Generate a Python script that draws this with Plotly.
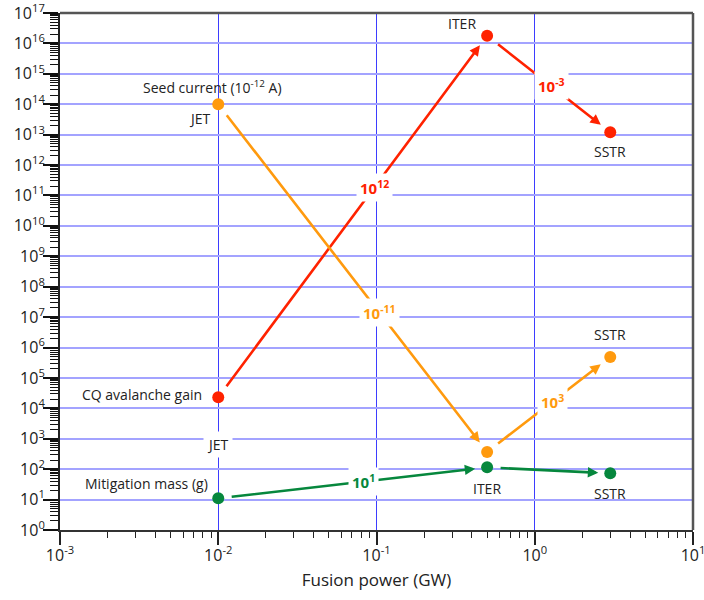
import math
import plotly.graph_objects as go

# ---- data ----
systems = ["JET", "ITER", "SSTR"]
fusion_power = [0.01, 0.5, 3.0]              # GW
avalanche_gain = [2.3e4, 1.8e16, 1.2e13]
seed_current = [1.0e14, 3.7e2, 4.9e5]         # units of 1e-12 A
mitigation_mass = [11, 115, 73]               # g
avalanche_steps = ["10<sup>12</sup>", "10<sup>-3</sup>"]
seed_steps = ["10<sup>-11</sup>", "10<sup>3</sup>"]
mass_steps = ["10<sup>1</sup>", ""]
x_tick_exps = [-3, -2, -1, 0, 1]
y_tick_exps = list(range(0, 18))

RED = "#ff2200"
ORANGE = "#ff9a0e"
GREEN = "#06873d"
FONT = "Open Sans"

fig = go.Figure()

series = [
    (avalanche_gain, RED, avalanche_steps, [0.58, 0.52]),
    (seed_current, ORANGE, seed_steps, [0.6, 0.53]),
    (mitigation_mass, GREEN, mass_steps, [0.54, 0.5]),
]

annotations = []
for vals, col, steps, fracs in series:
    fig.add_trace(go.Scatter(x=fusion_power, y=vals, mode="markers",
                             marker=dict(color=col, size=12),
                             showlegend=False, hoverinfo="skip"))
    lx = [math.log10(v) for v in fusion_power]
    ly = [math.log10(v) for v in vals]
    for i in range(len(vals) - 1):
        annotations.append(dict(
            x=lx[i + 1], y=ly[i + 1], ax=lx[i], ay=ly[i],
            xref="x", yref="y", axref="x", ayref="y",
            text="", showarrow=True, arrowhead=2, arrowsize=0.8,
            arrowwidth=2.6, arrowcolor=col, standoff=12, startstandoff=12))
    for i in range(len(vals) - 1):
        if not steps[i]:
            continue
        t = fracs[i]
        annotations.append(dict(
            x=lx[i] + t * (lx[i + 1] - lx[i]),
            y=ly[i] + t * (ly[i + 1] - ly[i]),
            xref="x", yref="y", text="<b>" + steps[i] + "</b>",
            showarrow=False, bgcolor="white", borderpad=3,
            font=dict(family=FONT, size=15, color=col)))

lab_font = dict(family=FONT, size=14, color="#222222")
lx = [math.log10(v) for v in fusion_power]

def lab(text, xi, yval, xshift=0, yshift=0, xanchor="center", bg=None):
    d = dict(x=lx[xi], y=math.log10(yval), xref="x", yref="y", text=text,
             showarrow=False, xshift=xshift, yshift=yshift, xanchor=xanchor,
             font=lab_font)
    if bg:
        d["bgcolor"] = bg
        d["borderpad"] = 3
    annotations.append(d)

lab("Seed current (10<sup>-12</sup> A)", 0, seed_current[0], xshift=-6, yshift=17)
lab("JET", 0, seed_current[0], xshift=-18, yshift=-14)
lab("CQ avalanche gain", 0, avalanche_gain[0], xshift=-14, yshift=3, xanchor="right")
lab("JET", 0, avalanche_gain[0], yshift=-47, bg="white")
lab("Mitigation mass (g)", 0, mitigation_mass[0], xshift=-8, yshift=15, xanchor="right")
lab("ITER", 1, avalanche_gain[1], xshift=-9, yshift=12, xanchor="right")
lab("SSTR", 2, avalanche_gain[2], yshift=-19)
lab("SSTR", 2, seed_current[2], yshift=22)
lab("ITER", 1, mitigation_mass[1], yshift=-21)
lab("SSTR", 2, mitigation_mass[2], yshift=-20)

minor_x = [k * 10.0 ** e for e in range(-3, 1) for k in range(2, 10)]
minor_y = [k * 10.0 ** e for e in range(0, 17) for k in range(2, 10)]

fig.update_layout(
    width=704, height=600,
    margin=dict(l=60, r=11, t=13, b=70),
    plot_bgcolor="white", paper_bgcolor="white",
    font=dict(family=FONT, size=14, color="#222222"),
    annotations=annotations,
    xaxis=dict(
        type="log", range=[-3, 1], automargin=False,
        tickmode="array",
        tickvals=[10.0 ** e for e in x_tick_exps],
        ticktext=["10<sup>%d</sup>" % e for e in x_tick_exps],
        ticks="outside", ticklen=13, tickwidth=1.5, tickcolor="#222222",
        showline=True, linecolor="#333333", linewidth=2,
        showgrid=True, gridcolor="#3d3dff", gridwidth=1,
        minor=dict(tickvals=minor_x, ticks="outside", ticklen=6,
                   tickwidth=1.2, tickcolor="#222222", showgrid=False),
        ticklabelstandoff=-3, ticklabeloverflow="allow",
        tickfont=dict(family=FONT, size=16, color="#222222"),
        title=dict(text="Fusion power (GW)", standoff=9,
                   font=dict(family=FONT, size=17, color="#222222")),
        zeroline=False,
    ),
    yaxis=dict(
        type="log", range=[0, 17], automargin=False,
        tickmode="array",
        tickvals=[10.0 ** e for e in y_tick_exps],
        ticktext=["10<sup>%d</sup>" % e for e in y_tick_exps],
        ticks="outside", ticklen=15, tickwidth=1.5, tickcolor="#111111",
        showline=True, linecolor="#222222", linewidth=2,
        showgrid=True, gridcolor="#a3a3ff", gridwidth=1.6,
        minor=dict(tickvals=minor_y, ticks="outside", ticklen=8,
                   tickwidth=1.2, tickcolor="#111111", showgrid=False),
        ticklabelstandoff=-5, ticklabeloverflow="allow",
        tickfont=dict(family=FONT, size=16, color="#222222"),
        zeroline=False,
    ),
    shapes=[
        dict(type="line", xref="paper", yref="paper", x0=0, x1=1, y0=1, y1=1,
             line=dict(color="#555555", width=2.5)),
        dict(type="line", xref="paper", yref="paper", x0=1, x1=1, y0=0, y1=1,
             line=dict(color="#555555", width=2.5)),
    ],
)

fig.write_html("out.html", config={"displayModeBar": False},
               post_script="document.body.style.margin='0';")
